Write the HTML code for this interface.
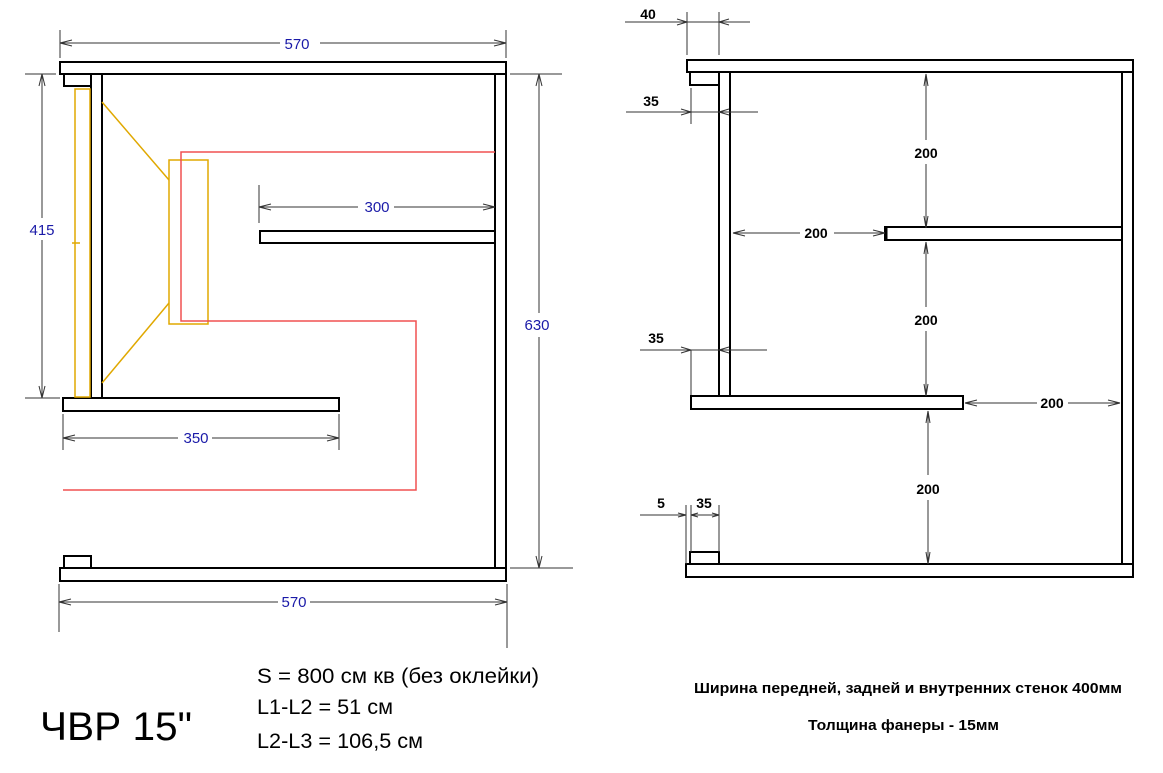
<!DOCTYPE html>
<html><head><meta charset="utf-8"><style>
html,body{margin:0;padding:0;background:#fff;}
svg{display:block;}
.b{fill:#fff;stroke:#000;stroke-width:2;}
.d{stroke:#333;stroke-width:1;fill:none;}
.bl{font-family:"Liberation Sans",sans-serif;font-size:15px;fill:#1a1aa8;text-anchor:middle;}
.bk{font-family:"Liberation Sans",sans-serif;font-size:14px;font-weight:bold;fill:#000;text-anchor:middle;}
.t{font-family:"Liberation Sans","Noto Sans CJK SC",sans-serif;fill:#000;}
</style></head><body>
<svg width="1163" height="773" viewBox="0 0 1163 773" xmlns="http://www.w3.org/2000/svg">
<g>
<rect class="b" x="60" y="62" width="446" height="12"/>
<rect class="b" x="64" y="74" width="27" height="12"/>
<rect class="b" x="91" y="74" width="11" height="324"/>
<rect class="b" x="495" y="74" width="11" height="494"/>
<rect class="b" x="260" y="231" width="235" height="12"/>
<rect class="b" x="63" y="398" width="276" height="13"/>
<rect class="b" x="60" y="568" width="446" height="13"/>
<rect class="b" x="64" y="556" width="27" height="12"/>
<g stroke="#e0a800" stroke-width="1.5" fill="none">
<rect x="75" y="89" width="15" height="308"/>
<line x1="102" y1="102" x2="169" y2="180"/>
<line x1="102" y1="383" x2="169" y2="303"/>
<rect x="169" y="160" width="39" height="164"/>
<line x1="72" y1="243" x2="80" y2="243"/>
</g>
<polyline points="495,152 181,152 181,321 416,321 416,490 63,490" stroke="#f05050" stroke-width="1.5" fill="none"/>
<g class="d">
<line x1="60" y1="30" x2="60" y2="58"/><line x1="506" y1="30" x2="506" y2="58"/>
<line x1="60" y1="43" x2="280" y2="43"/><line x1="320" y1="43" x2="506" y2="43"/>
<path d="M60 43 l12 -3 M60 43 l12 3 M506 43 l-12 -3 M506 43 l-12 3"/>
<line x1="25" y1="74" x2="56" y2="74"/><line x1="25" y1="398" x2="60" y2="398"/>
<line x1="42" y1="74" x2="42" y2="218"/><line x1="42" y1="240" x2="42" y2="398"/>
<path d="M42 74 l-3 12 M42 74 l3 12 M42 398 l-3 -12 M42 398 l3 -12"/>
<line x1="259" y1="185" x2="259" y2="223"/>
<line x1="259" y1="207" x2="358" y2="207"/><line x1="394" y1="207" x2="495" y2="207"/>
<path d="M259 207 l12 -3 M259 207 l12 3 M495 207 l-12 -3 M495 207 l-12 3"/>
<line x1="510" y1="74" x2="562" y2="74"/><line x1="510" y1="568" x2="573" y2="568"/>
<line x1="539" y1="74" x2="539" y2="313"/><line x1="539" y1="337" x2="539" y2="568"/>
<path d="M539 74 l-3 12 M539 74 l3 12 M539 568 l-3 -12 M539 568 l3 -12"/>
<line x1="63" y1="414" x2="63" y2="450"/><line x1="339" y1="414" x2="339" y2="450"/>
<line x1="63" y1="438" x2="178" y2="438"/><line x1="212" y1="438" x2="339" y2="438"/>
<path d="M63 438 l12 -3 M63 438 l12 3 M339 438 l-12 -3 M339 438 l-12 3"/>
<line x1="59" y1="584" x2="59" y2="632"/><line x1="507" y1="584" x2="507" y2="648"/>
<line x1="59" y1="602" x2="278" y2="602"/><line x1="310" y1="602" x2="507" y2="602"/>
<path d="M59 602 l12 -3 M59 602 l12 3 M507 602 l-12 -3 M507 602 l-12 3"/>
</g>
<text class="bl" x="297" y="49">570</text>
<text class="bl" x="42" y="235">415</text>
<text class="bl" x="377" y="212">300</text>
<text class="bl" x="537" y="330">630</text>
<text class="bl" x="196" y="443">350</text>
<text class="bl" x="294" y="607">570</text>
</g>
<g>
<rect class="b" x="687" y="60" width="446" height="12"/>
<rect class="b" x="690" y="72" width="29" height="13"/>
<rect class="b" x="719" y="72" width="11" height="324"/>
<rect class="b" x="1122" y="72" width="11" height="492"/>
<rect class="b" x="885" y="227" width="237" height="13"/>
<line x1="886" y1="227" x2="886" y2="240" stroke="#000" stroke-width="3"/>
<rect class="b" x="691" y="396" width="272" height="13"/>
<rect class="b" x="686" y="564" width="447" height="13"/>
<rect class="b" x="690" y="552" width="29" height="12"/>
<g class="d">
<line x1="687" y1="12" x2="687" y2="55"/><line x1="719" y1="12" x2="719" y2="55"/>
<line x1="625" y1="22" x2="750" y2="22"/>
<path d="M687 22 l-10 -3 M687 22 l-10 3 M719 22 l10 -3 M719 22 l10 3"/>
<line x1="691" y1="88" x2="691" y2="124"/>
<line x1="626" y1="112" x2="758" y2="112"/>
<path d="M691 112 l-10 -3 M691 112 l-10 3 M719 112 l10 -3 M719 112 l10 3"/>
<line x1="691" y1="350" x2="691" y2="395"/>
<line x1="640" y1="350" x2="767" y2="350"/>
<path d="M691 350 l-10 -3 M691 350 l-10 3 M719 350 l10 -3 M719 350 l10 3"/>
<line x1="926" y1="74" x2="926" y2="140"/><line x1="926" y1="164" x2="926" y2="228"/>
<path d="M926 74 l-2 12 M926 74 l2 12 M926 228 l-2 -12 M926 228 l2 -12"/>
<line x1="926" y1="242" x2="926" y2="307"/><line x1="926" y1="331" x2="926" y2="396"/>
<path d="M926 242 l-2 12 M926 242 l2 12 M926 396 l-2 -12 M926 396 l2 -12"/>
<line x1="928" y1="411" x2="928" y2="475"/><line x1="928" y1="500" x2="928" y2="564"/>
<path d="M928 411 l-2 12 M928 411 l2 12 M928 564 l-2 -12 M928 564 l2 -12"/>
<line x1="733" y1="233" x2="800" y2="233"/><line x1="834" y1="233" x2="885" y2="233"/>
<path d="M733 233 l12 -3 M733 233 l12 3 M885 233 l-12 -3 M885 233 l-12 3"/>
<line x1="965" y1="403" x2="1037" y2="403"/><line x1="1068" y1="403" x2="1120" y2="403"/>
<path d="M965 403 l12 -3 M965 403 l12 3 M1120 403 l-12 -3 M1120 403 l-12 3"/>
<line x1="686" y1="505" x2="686" y2="564"/><line x1="691" y1="505" x2="691" y2="552"/><line x1="719" y1="505" x2="719" y2="552"/>
<line x1="640" y1="515" x2="686" y2="515"/><line x1="691" y1="515" x2="719" y2="515"/>
<path d="M686 515 l-8 -2 M686 515 l-8 2 M691 515 l7 -2 M691 515 l7 2 M719 515 l-7 -2 M719 515 l-7 2"/>
</g>
<text class="bk" x="648" y="19">40</text>
<text class="bk" x="651" y="106">35</text>
<text class="bk" x="656" y="343">35</text>
<text class="bk" x="926" y="158">200</text>
<text class="bk" x="926" y="325">200</text>
<text class="bk" x="928" y="494">200</text>
<text class="bk" x="816" y="238">200</text>
<text class="bk" x="1052" y="408">200</text>
<text class="bk" x="661" y="508">5</text>
<text class="bk" x="704" y="508">35</text>
</g>
<text class="t" x="257" y="683" font-size="21" textLength="282" lengthAdjust="spacingAndGlyphs">S = 800 см кв (без оклейки)</text>
<text class="t" x="257" y="714" font-size="21" textLength="136" lengthAdjust="spacingAndGlyphs">L1-L2 = 51 см</text>
<text class="t" x="257" y="748" font-size="21" textLength="166" lengthAdjust="spacingAndGlyphs">L2-L3 = 106,5 см</text>
<text class="t" x="40" y="740" font-size="40" textLength="152" lengthAdjust="spacingAndGlyphs">ЧВР 15"</text>
<text class="t" x="694" y="693" font-size="15" font-weight="bold" textLength="428" lengthAdjust="spacingAndGlyphs">Ширина передней, задней и внутренних стенок 400мм</text>
<text class="t" x="808" y="730" font-size="15" font-weight="bold" textLength="191" lengthAdjust="spacingAndGlyphs">Толщина фанеры - 15мм</text>
</svg>
</body></html>
